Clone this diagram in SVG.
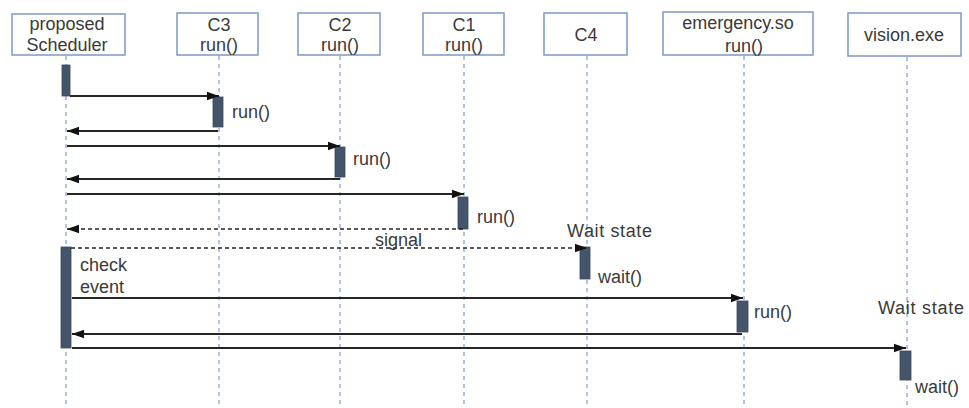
<svg xmlns="http://www.w3.org/2000/svg" width="969" height="408" viewBox="0 0 969 408">
  <style>
    .box { fill: #ffffff; stroke: #7d98c4; stroke-width: 1.5; }
    .lbl { font-family: "Liberation Sans", Arial, sans-serif; font-size: 18px; fill: #3a3a3a; }
    .mid { text-anchor: middle; }
    .life { stroke: #8fb3e0; stroke-width: 1.5; stroke-dasharray: 4 4; fill: none; }
    .bar { fill: #44546a; stroke: #3b4a5e; stroke-width: 0.8; }
    .msg { stroke: #262626; stroke-width: 1.9; fill: none; marker-end: url(#head); }
    .dash { stroke-dasharray: 4 3; stroke-width: 1.5; }
  </style>
  <defs>
    <marker id="head" markerUnits="userSpaceOnUse" markerWidth="13" markerHeight="10" refX="12" refY="5" orient="auto">
      <path d="M0,0.8 L12,5 L0,9.2 Z" fill="#111111"/>
    </marker>
  </defs>
  <rect width="969" height="408" fill="#ffffff"/>

  <!-- lifelines -->
  <g id="lifelines">
    <line class="life" x1="66" y1="56" x2="66" y2="408"/>
    <line class="life" x1="219" y1="56" x2="219" y2="408"/>
    <line class="life" x1="340" y1="56" x2="340" y2="408"/>
    <line class="life" x1="464" y1="56" x2="464" y2="408"/>
    <line class="life" x1="587" y1="56" x2="587" y2="408"/>
    <line class="life" x1="744" y1="56" x2="744" y2="408"/>
    <line class="life" x1="907" y1="57" x2="907" y2="408"/>
  </g>

  <!-- participants -->
  <g id="scheduler">
    <rect class="box" x="12" y="14" width="113" height="41"/>
    <text class="lbl mid" x="67" y="30">proposed</text>
    <text class="lbl mid" x="67" y="51">Scheduler</text>
    <rect class="bar" x="62" y="65" width="8" height="31"/>
    <rect class="bar" x="61" y="247" width="10" height="101"/>
    <text class="lbl" x="80" y="271">check</text>
    <text class="lbl" x="80" y="293">event</text>
  </g>
  <g id="c3">
    <rect class="box" x="177" y="13" width="81" height="42"/>
    <text class="lbl mid" x="219" y="31">C3</text>
    <text class="lbl mid" x="219" y="51">run()</text>
    <rect class="bar" x="213" y="97" width="10" height="30"/>
    <text class="lbl" x="232" y="118">run()</text>
  </g>
  <g id="c2">
    <rect class="box" x="298" y="13" width="82" height="42"/>
    <text class="lbl mid" x="340" y="31">C2</text>
    <text class="lbl mid" x="340" y="51">run()</text>
    <rect class="bar" x="335" y="147" width="10" height="30"/>
    <text class="lbl" x="353" y="165">run()</text>
  </g>
  <g id="c1">
    <rect class="box" x="423" y="13" width="81" height="42"/>
    <text class="lbl mid" x="464" y="31">C1</text>
    <text class="lbl mid" x="464" y="51">run()</text>
    <rect class="bar" x="458" y="197" width="10" height="32"/>
    <text class="lbl" x="477" y="223">run()</text>
  </g>
  <g id="c4">
    <rect class="box" x="544" y="13" width="83" height="42"/>
    <text class="lbl mid" x="586" y="41">C4</text>
    <text class="lbl" x="567" y="237" textLength="85" lengthAdjust="spacing">Wait state</text>
    <rect class="bar" x="580" y="247" width="10" height="32"/>
    <text class="lbl" x="598" y="283">wait()</text>
  </g>
  <g id="emergency">
    <rect class="box" x="663" y="12" width="150" height="43"/>
    <text class="lbl mid" x="738" y="29">emergency.so</text>
    <text class="lbl mid" x="744" y="52">run()</text>
    <rect class="bar" x="737" y="301" width="11" height="31"/>
    <text class="lbl" x="754" y="318">run()</text>
  </g>
  <g id="vision">
    <rect class="box" x="848" y="13" width="113" height="43"/>
    <text class="lbl mid" x="904" y="41">vision.exe</text>
    <text class="lbl" x="878" y="314" textLength="86" lengthAdjust="spacing">Wait state</text>
    <rect class="bar" x="900" y="351" width="11" height="29"/>
    <text class="lbl" x="915" y="393">wait()</text>
  </g>

  <!-- messages -->
  <g id="connectors">
    <line class="msg" x1="70" y1="96" x2="219" y2="96"/>
    <line class="msg" x1="218" y1="131" x2="67" y2="131"/>
    <line class="msg" x1="67" y1="146" x2="340" y2="146"/>
    <line class="msg" x1="340" y1="179" x2="67" y2="179"/>
    <line class="msg" x1="67" y1="194" x2="464" y2="194"/>
    <line class="msg dash" x1="463" y1="229" x2="67" y2="229"/>
    <line class="msg dash" x1="71" y1="248" x2="587" y2="248"/>
    <text class="lbl" x="375" y="246">signal</text>
    <line class="msg" x1="72" y1="298" x2="743" y2="298"/>
    <line class="msg" x1="742" y1="334" x2="72" y2="334"/>
    <line class="msg" x1="72" y1="348" x2="906" y2="348"/>
  </g>
</svg>
